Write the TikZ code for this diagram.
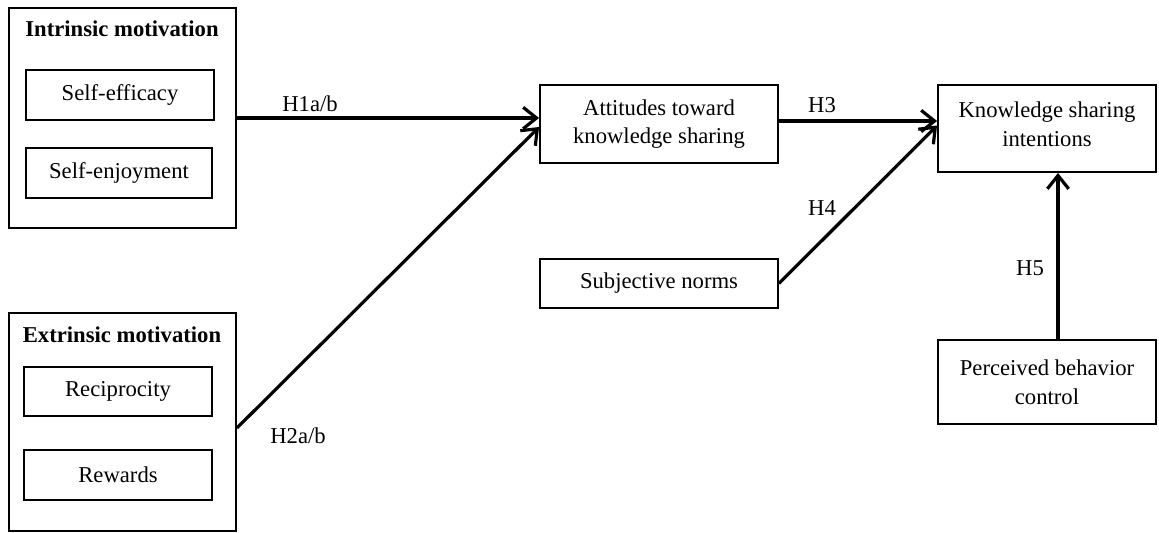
\documentclass[tikz,border=0pt]{standalone}
\usepackage{fontspec}
\setmainfont{Liberation Serif}
\usetikzlibrary{arrows.meta}
\begin{document}
\begin{tikzpicture}[x=0.75pt,y=-0.75pt,
  box/.style={draw, line width=1.4pt, inner sep=0pt, align=center, font=\fontsize{17}{21.5}\selectfont},
  outer/.style={draw, line width=1.4pt, inner sep=0pt},
  ttl/.style={font=\fontsize{17}{21.5}\selectfont\bfseries},
  txt/.style={align=center, inner sep=0pt, font=\fontsize{17}{21.5}\selectfont},
  conn/.style={line width=2.4pt, -{Straight Barb[length=10pt,width=16pt,line width=2.4pt]}},
  lab/.style={font=\fontsize{17}{21.5}\selectfont, inner sep=1pt}]
\useasboundingbox (0,0) rectangle (1159,532);
% Intrinsic
\node[outer, minimum width=227*0.75pt, minimum height=220*0.75pt] (intr) at (122.5,118) {};
\node[ttl] (intrt) at (122,29) {Intrinsic motivation};
\node[box, minimum width=188*0.75pt, minimum height=50*0.75pt] (se) at (120,95) {Self-efficacy};
\node[box, minimum width=186*0.75pt, minimum height=50*0.75pt] (sj) at (119,173) {Self-enjoyment};
% Extrinsic
\node[outer, minimum width=227*0.75pt, minimum height=218*0.75pt] (extr) at (122.5,422) {};
\node[ttl] (extrt) at (122,335) {Extrinsic motivation};
\node[box, minimum width=188*0.75pt, minimum height=49*0.75pt] (rec) at (118,391.5) {Reciprocity};
\node[box, minimum width=188*0.75pt, minimum height=50*0.75pt] (rew) at (118,475) {Rewards};
% middle
\node[box, minimum width=238*0.75pt, minimum height=78*0.75pt] (att) at (659,124) {Attitudes toward\\knowledge sharing};
\node[box, minimum width=238*0.75pt, minimum height=49*0.75pt] (sub) at (659,283.5) {Subjective norms};
% right
\node[outer, minimum width=218*0.75pt, minimum height=87*0.75pt] (ksi) at (1047,128.5) {};
\node[txt] (ksit) at (1047,124) {Knowledge sharing\\intentions};
\node[box, minimum width=218*0.75pt, minimum height=84*0.75pt] (pbc) at (1047,382) {Perceived behavior\\control};
% connectors
\draw[conn] (intr.east) -- (att.west |- intr.east);
\coordinate (h2s) at ([yshift=-6*0.75pt]extr.east);
\draw[conn] (h2s) -- ([yshift=-3*0.75pt]att.west);
\draw[conn] ([yshift=2.25pt]att.east) -- ([yshift=2.25pt]att.east -| ksi.west);
\draw[conn] (sub.east) -- ([yshift=3*0.75pt]ksi.west);
\draw[conn] ([xshift=11*0.75pt]pbc.north) -- ([xshift=11*0.75pt]ksi.south);
% labels
\node[lab] (l1) at (310,104) {H1a/b};
\node[lab] (l2) at (298,436) {H2a/b};
\node[lab] (l3) at (822,105) {H3};
\node[lab] (l4) at (822,208) {H4};
\node[lab] (l5) at (1030,268) {H5};
\end{tikzpicture}
\end{document}
